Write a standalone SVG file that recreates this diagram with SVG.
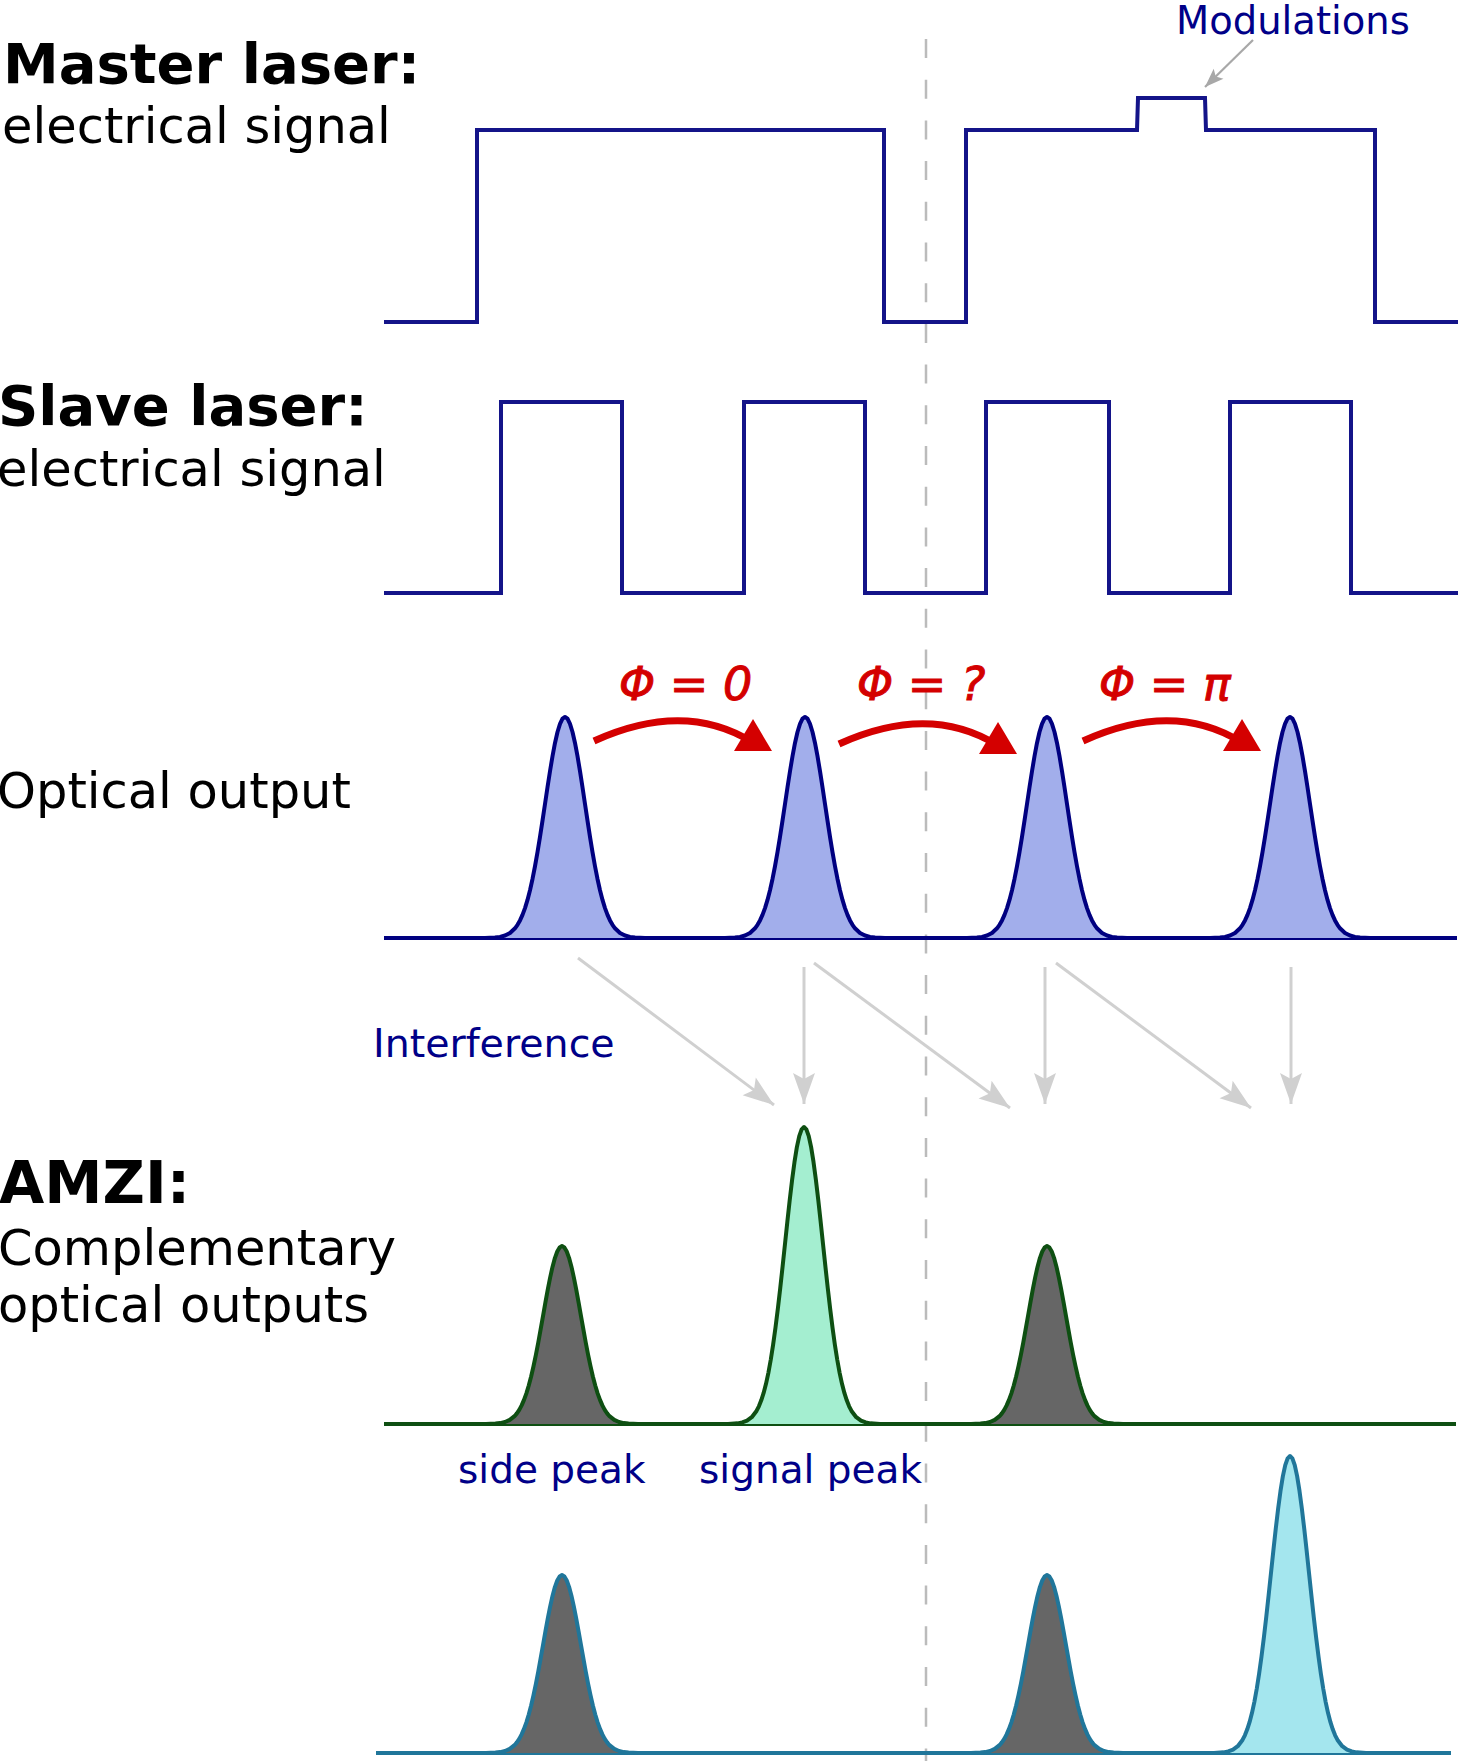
<svg xmlns="http://www.w3.org/2000/svg" xmlns:xlink="http://www.w3.org/1999/xlink" width="1458" height="1761" viewBox="0 0 1458 1761">
<style>
  .lbl { font-family: "DejaVu Sans", Verdana, sans-serif; fill: #000; }
  .bold { font-weight: bold; font-size: 56px; }
  .big { font-size: 49.5px; }
  .blue { font-family: "DejaVu Sans", Verdana, sans-serif; fill: #000088; font-size: 39px; }
  .phi { font-family: "DejaVu Sans", Verdana, sans-serif; fill: #d40000; stroke: #d40000; stroke-width: 1; font-size: 46px; font-style: italic; }
  .sig { fill: none; stroke: #141489; stroke-width: 4; stroke-linejoin: miter; }
  .pk { vector-effect: non-scaling-stroke; stroke-width: 4; stroke-linejoin: round; }
  .opt { fill: #a2aeeb; stroke: #000080; }
  .g1 { stroke: #0e4f12; }
  .g2 { stroke: #20769a; }
  .side { fill: #666666; }
  .sigA { fill: #a4eed0; }
  .sigB { fill: #a4e6ee; }
  .gray { fill: none; stroke: #d0d0d0; stroke-width: 3; }
  .red { fill: none; stroke: #d40000; stroke-width: 7; }
</style>
<defs>
  <path id="gauss" d="M-80,0 L-70,-0.22 L-65,-0.51 L-60,-1.11 L-55,-2.28 L-50,-4.39 L-47.5,-5.96 L-45,-7.96 L-42.5,-10.46 L-40,-13.53 L-37.5,-17.24 L-35,-21.63 L-32.5,-26.71 L-30,-32.47 L-27.5,-38.86 L-25,-45.78 L-22.5,-53.11 L-20,-60.65 L-17.5,-68.19 L-15,-75.48 L-12.5,-82.26 L-10,-88.25 L-7.5,-93.21 L-5,-96.92 L-2.5,-99.22 L0,-100 L2.5,-99.22 L5,-96.92 L7.5,-93.21 L10,-88.25 L12.5,-82.26 L15,-75.48 L17.5,-68.19 L20,-60.65 L22.5,-53.11 L25,-45.78 L27.5,-38.86 L30,-32.47 L32.5,-26.71 L35,-21.63 L37.5,-17.24 L40,-13.53 L42.5,-10.46 L45,-7.96 L47.5,-5.96 L50,-4.39 L55,-2.28 L60,-1.11 L65,-0.51 L70,-0.22 L80,0" class="pk"/>
  <marker id="ga" markerUnits="userSpaceOnUse" markerWidth="32" markerHeight="22" refX="31" refY="11" orient="auto" overflow="visible">
    <path d="M31,11 L0,0 L6,11 L0,22 Z" fill="#d0d0d0"/>
  </marker>
  <marker id="gm" markerUnits="userSpaceOnUse" markerWidth="20" markerHeight="14" refX="19" refY="7" orient="auto" overflow="visible">
    <path d="M19,7 L0,0 L4,7 L0,14 Z" fill="#a8a8a8"/>
  </marker>
</defs>

<line id="time-marker" x1="926" y1="39" x2="926" y2="1761" stroke="#bbbbbb" stroke-width="2.5" stroke-dasharray="19 21.7"/>

<g id="labels">
  <text class="lbl bold" x="3" y="83">Master laser:</text>
  <text class="lbl big" x="2" y="143">electrical signal</text>
  <text class="lbl bold" x="-2" y="425">Slave laser:</text>
  <text class="lbl big" x="-3" y="486">electrical signal</text>
  <text class="lbl big" x="-3" y="808">Optical output</text>
  <text class="lbl bold" x="-1" y="1203" style="font-size:58.5px">AMZI:</text>
  <text class="lbl big" x="-2" y="1265">Complementary</text>
  <text class="lbl big" x="-2" y="1322">optical outputs</text>
  <text class="blue" x="1176" y="34" style="font-size:38.5px">Modulations</text>
  <text class="blue" x="373" y="1057" style="font-size:39.5px">Interference</text>
  <text class="blue" x="458" y="1483">side peak</text>
  <text class="blue" x="699" y="1483">signal peak</text>
</g>

<g id="master-signal">
  <path class="sig" d="M384,322 H477 V130 H884 V322 H966 V130 H1137 L1138,98 H1205 L1206,130 H1375 V322 H1458"/>
</g>

<g id="slave-signal">
  <path class="sig" d="M384,593 H501 V402 H622 V593 H744 V402 H865 V593 H986 V402 H1109 V593 H1230 V402 H1351 V593 H1458"/>
</g>

<g id="optical-output">
  <line x1="384" y1="938" x2="1457" y2="938" stroke="#000080" stroke-width="4"/>
  <use xlink:href="#gauss" class="opt" transform="translate(565,938) scale(1,2.21)"/>
  <use xlink:href="#gauss" class="opt" transform="translate(805,938) scale(1,2.21)"/>
  <use xlink:href="#gauss" class="opt" transform="translate(1047,938) scale(1,2.21)"/>
  <use xlink:href="#gauss" class="opt" transform="translate(1290,938) scale(1,2.21)"/>
</g>

<g id="amzi-output-1">
  <line x1="384" y1="1424" x2="1456" y2="1424" stroke="#0e4f12" stroke-width="4"/>
  <use xlink:href="#gauss" class="g1 side" transform="translate(562,1424) scale(0.95,1.78)"/>
  <use xlink:href="#gauss" class="g1 sigA" transform="translate(804,1424) scale(0.95,2.97)"/>
  <use xlink:href="#gauss" class="g1 side" transform="translate(1047,1424) scale(0.95,1.78)"/>
</g>

<g id="amzi-output-2">
  <line x1="376" y1="1753" x2="1451" y2="1753" stroke="#20769a" stroke-width="4"/>
  <use xlink:href="#gauss" class="g2 side" transform="translate(562,1753) scale(0.95,1.78)"/>
  <use xlink:href="#gauss" class="g2 side" transform="translate(1047,1753) scale(0.95,1.78)"/>
  <use xlink:href="#gauss" class="g2 sigB" transform="translate(1290,1753) scale(0.95,2.97)"/>
</g>

<g id="connectors">
  <line x1="1253" y1="40" x2="1205" y2="87" stroke="#a8a8a8" stroke-width="2.2" marker-end="url(#gm)"/>
  <g id="phase-arrows">
    <path class="red" d="M594,741 Q684,700 752,742"/>
    <polygon points="753,719 734,751 772,751" fill="#d40000"/>
    <path class="red" d="M839,744 Q929,703 997,745"/>
    <polygon points="998,722 979,754 1017,754" fill="#d40000"/>
    <path class="red" d="M1083,741 Q1173,700 1241,742"/>
    <polygon points="1242,719 1223,751 1261,751" fill="#d40000"/>
    <text class="phi" x="619" y="700">Φ = 0</text>
    <text class="phi" x="857" y="700">Φ = ?</text>
    <text class="phi" x="1099" y="700">Φ = π</text>
  </g>
  <g id="interference-arrows">
    <line class="gray" x1="578" y1="958" x2="774" y2="1105" marker-end="url(#ga)"/>
    <line class="gray" x1="804" y1="967" x2="804" y2="1104" marker-end="url(#ga)"/>
    <line class="gray" x1="814" y1="963" x2="1010" y2="1108" marker-end="url(#ga)"/>
    <line class="gray" x1="1045" y1="967" x2="1045" y2="1104" marker-end="url(#ga)"/>
    <line class="gray" x1="1056" y1="963" x2="1251" y2="1108" marker-end="url(#ga)"/>
    <line class="gray" x1="1291" y1="967" x2="1291" y2="1104" marker-end="url(#ga)"/>
  </g>
</g>
</svg>
